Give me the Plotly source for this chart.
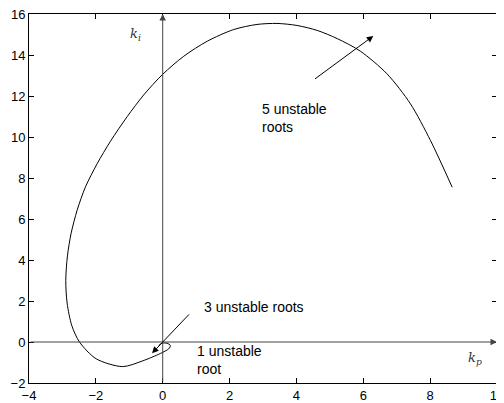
import plotly.graph_objects as go

# boundary curve (k_p, k_i)
kp = [8.66, 8.01, 7.41, 6.71, 5.91, 5.22, 4.62, 4.02, 3.42, 2.82, 2.12, 1.33, 0.63, 0.0,
      -0.57, -1.06, -1.56, -1.96, -2.31, -2.56, -2.74, -2.85, -2.90, -2.86, -2.72, -2.49,
      -1.99, -1.20, -0.60, -0.07, 0.18, 0.23, 0.13, -0.02, -0.12]
ki = [7.55, 9.83, 11.62, 13.08, 14.19, 14.80, 15.20, 15.44, 15.54, 15.49, 15.24, 14.67,
      13.94, 13.06, 12.05, 11.00, 9.80, 8.70, 7.57, 6.43, 5.30, 4.20, 3.00, 1.90, 0.80,
      0.0, -0.82, -1.20, -0.92, -0.56, -0.33, -0.17, -0.06, -0.06, -0.17]

x_ticks = [-4, -2, 0, 2, 4, 6, 8, 10]
y_ticks = [-2, 0, 2, 4, 6, 8, 10, 12, 14, 16]

fig = go.Figure()
fig.add_trace(go.Scatter(x=kp, y=ki, mode="lines",
                         line=dict(color="black", width=1, shape="spline", smoothing=0.8),
                         showlegend=False, hoverinfo="skip"))

txt = dict(family="Liberation Sans, Arial", size=14, color="black")
ann = []
# coordinate axes with arrow heads
ann.append(dict(x=10, y=0, ax=-4, ay=0, axref="x", ayref="y", xref="x", yref="y",
                text="", showarrow=True, arrowhead=2, arrowsize=1.3, arrowwidth=1,
                arrowcolor="#444"))
ann.append(dict(x=0, y=16, ax=0, ay=-2, axref="x", ayref="y", xref="x", yref="y",
                text="", showarrow=True, arrowhead=2, arrowsize=1.3, arrowwidth=1,
                arrowcolor="#444"))
# region arrows
ann.append(dict(x=6.30, y=14.93, ax=4.51, ay=12.78, axref="x", ayref="y",
                text="", showarrow=True, arrowhead=2, arrowsize=1.3, arrowwidth=1,
                arrowcolor="black"))
ann.append(dict(x=-0.32, y=-0.55, ax=0.83, ay=1.42, axref="x", ayref="y",
                text="", showarrow=True, arrowhead=2, arrowsize=1.3, arrowwidth=1,
                arrowcolor="black"))
ann.append(dict(x=2.92, y=10.95, text="5 unstable<br>roots", showarrow=False,
                xanchor="left", yanchor="middle", align="left", font=txt))
ann.append(dict(x=1.17, y=1.71, text="3 unstable roots", showarrow=False,
                xanchor="left", yanchor="middle", align="left", font=txt))
ann.append(dict(x=0.96, y=-0.88, text="1 unstable<br>root", showarrow=False,
                xanchor="left", yanchor="middle", align="left", font=txt))
ann.append(dict(x=-0.82, y=15.0, text="<i>k<sub>i</sub></i>", showarrow=False,
                font=dict(family="DejaVu Serif", size=13, color="#333")))
ann.append(dict(x=9.33, y=-0.8, text="<i>k<sub>p</sub></i>", showarrow=False,
                font=dict(family="DejaVu Serif", size=13, color="#333")))

# page body adds an 8px offset, so the figure is 8px smaller than the window
fig.update_layout(
    width=496, height=395,
    margin=dict(l=21, r=7, t=6, b=20),
    plot_bgcolor="white", paper_bgcolor="white",
    annotations=ann,
    font=dict(family="Liberation Sans, Arial", size=13, color="black"),
    xaxis=dict(range=[-4, 10], tickvals=x_ticks, ticktext=[str(v).replace("-", "\u2212") for v in x_ticks],
               showgrid=False, zeroline=False, showline=True, mirror="ticks",
               linecolor="black", linewidth=1, ticks="inside", ticklen=5,
               tickcolor="black", automargin=False, ticklabeloverflow="allow"),
    yaxis=dict(range=[-2, 16], tickvals=y_ticks, ticktext=[str(v).replace("-", "\u2212") for v in y_ticks],
               showgrid=False, zeroline=False, showline=True, mirror="ticks",
               linecolor="black", linewidth=1, ticks="inside", ticklen=5,
               tickcolor="black", automargin=False, ticklabeloverflow="allow"),
)

fig.write_html("out.html")
